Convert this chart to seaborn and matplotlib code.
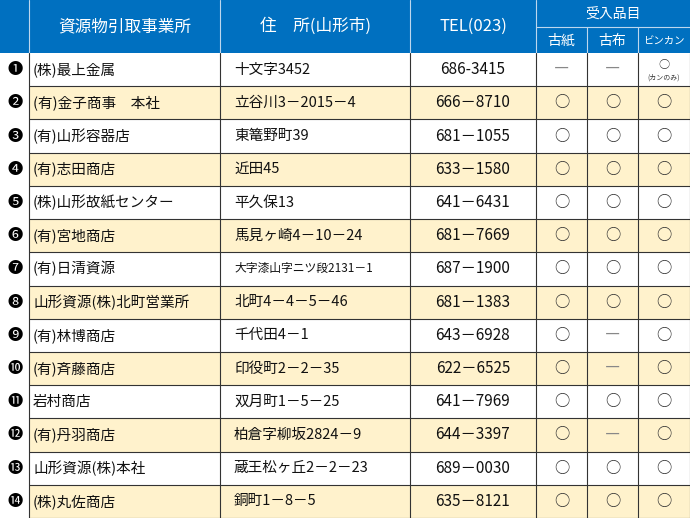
import matplotlib
matplotlib.use("Agg")
import matplotlib.pyplot as plt
import seaborn as sns

sns.set_theme(style="white")
plt.rcParams["font.family"] = ["Noto Sans CJK JP", "DejaVu Sans"]

# ── Data ──────────────────────────────────────────────────────────────────────
marks = ["❶", "❷", "❸", "❹", "❺", "❻", "❼", "❽", "❾", "❿", "⓫", "⓬", "⓭", "⓮"]
names = ["(株)最上金属", "(有)金子商事　本社", "(有)山形容器店", "(有)志田商店",
         "(株)山形故紙センター", "(有)宮地商店", "(有)日清資源", "山形資源(株)北町営業所",
         "(有)林博商店", "(有)斉藤商店", "岩村商店", "(有)丹羽商店",
         "山形資源(株)本社", "(株)丸佐商店"]
addresses = ["十文字3452", "立谷川3－2015－4", "東篭野町39", "近田45", "平久保13",
             "馬見ヶ崎4－10－24", "大字漆山字ニツ段2131－1", "北町4－4－5－46",
             "千代田4－1", "印役町2－2－35", "双月町1－5－25", "柏倉字柳坂2824－9",
             "蔵王松ヶ丘2－2－23", "銅町1－8－5"]
tels = ["686-3415", "666－8710", "681－1055", "633－1580", "641－6431", "681－7669",
        "687－1900", "681－1383", "643－6928", "622－6525", "641－7969", "644－3397",
        "689－0030", "635－8121"]
paper = ["―", "○", "○", "○", "○", "○", "○", "○", "○", "○", "○", "○", "○", "○"]
cloth = ["―", "○", "○", "○", "○", "○", "○", "○", "―", "―", "○", "―", "○", "○"]
bincan = ["○", "○", "○", "○", "○", "○", "○", "○", "○", "○", "○", "○", "○", "○"]

# ── Layout ────────────────────────────────────────────────────────────────────
cols = [0, 29, 220, 410, 536, 587, 638, 690]
head_h, sub_y = 53, 27
row_h = (518 - head_h) / len(names)
blue, beige, line = "#0070C0", "#FFF2CC", "#333333"

fig = plt.figure(figsize=(6.9, 5.18), dpi=100)
ax = fig.add_axes([0, 0, 1, 1])
ax.set_xlim(0, 690)
ax.set_ylim(518, 0)
ax.axis("off")

# header
ax.add_patch(plt.Rectangle((0, 0), 690, head_h, color=blue, lw=0))
hkw = dict(color="white", ha="center", va="center")
ax.text((cols[1] + cols[2]) / 2, head_h / 2, "資源物引取事業所", fontsize=12, **hkw)
ax.text((cols[2] + cols[3]) / 2, head_h / 2, "住　所(山形市)", fontsize=12, **hkw)
ax.text((cols[3] + cols[4]) / 2, head_h / 2, "TEL(023)", fontsize=12, **hkw)
ax.text((cols[4] + cols[7]) / 2, sub_y / 2 + 1, "受入品目", fontsize=10, **hkw)
for i, lab in enumerate(["古紙", "古布", "ビンカン"]):
    ax.text((cols[4 + i] + cols[5 + i]) / 2, (sub_y + head_h) / 2 + 1, lab,
            fontsize=10 if i < 2 else 7.5, **hkw)
wl = dict(color="#BDD7EE", lw=0.8)
for x in cols[1:5]:
    ax.plot([x, x], [0, head_h], **wl)
for x in cols[5:7]:
    ax.plot([x, x], [sub_y, head_h], **wl)
ax.plot([cols[4], 690], [sub_y, sub_y], **wl)

# body
for r in range(len(names)):
    y0 = head_h + r * row_h
    yc = y0 + row_h / 2
    if r % 2 == 1:
        ax.add_patch(plt.Rectangle((cols[1], y0), 690 - cols[1], row_h, color=beige, lw=0))
    ax.text(cols[0] + 15, yc, marks[r], fontsize=11, ha="center", va="center", color="black")
    ax.text(cols[1] + 4, yc, names[r], fontsize=10.5, ha="left", va="center", color="#111111")
    addr_fs = 8.5 if len(addresses[r]) > 12 else 10.5
    ax.text(cols[2] + 14, yc, addresses[r], fontsize=addr_fs, ha="left", va="center", color="#111111")
    ax.text((cols[3] + cols[4]) / 2, yc, tels[r], fontsize=11, ha="center", va="center", color="#111111")
    for i, v in enumerate([paper[r], cloth[r], bincan[r]]):
        xc = (cols[4 + i] + cols[5 + i]) / 2
        col = "#888888" if v == "―" else "#333333"
        if r == 0 and i == 2:
            ax.text(xc, yc - 5, v, fontsize=8, ha="center", va="center", color=col)
            ax.text(xc, yc + 8, "(カンのみ)", fontsize=5, ha="center", va="center", color="#333333")
        else:
            ax.text(xc, yc, v, fontsize=11, ha="center", va="center", color=col)
    ax.plot([cols[1], 690], [y0 + row_h, y0 + row_h], color=line, lw=0.8)

for x in cols[1:7]:
    ax.plot([x, x], [head_h, 518], color=line, lw=0.8)
ax.plot([689.5, 689.5], [head_h, 518], color=line, lw=0.8)

fig.savefig("out.png", dpi=100)
